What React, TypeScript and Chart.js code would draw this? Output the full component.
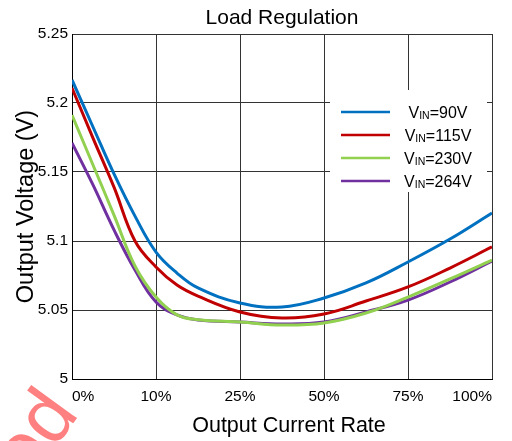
import React, { useEffect, useRef } from 'react';
import { Chart, registerables } from 'chart.js';

Chart.register(...registerables);

const chartTitle = 'Load Regulation';
const xAxisTitle = 'Output Current Rate';
const yAxisTitle = 'Output Voltage (V)';
const xTickLabels = ['0%', '10%', '25%', '50%', '75%', '100%'];
const yTickLabels = ['5', '5.05', '5.1', '5.15', '5.2', '5.25'];
// positions along the (evenly spaced) category axis, 0 = "0%", 5 = "100%"
const xPositions = [0, 0.25, 0.5, 0.75, 1, 1.25, 1.5, 2, 2.5, 3, 3.5, 4, 4.5, 5];
const vin90 = [5.2167, 5.1826, 5.1486, 5.118, 5.092, 5.0768, 5.066, 5.0551, 5.0522, 5.0587, 5.0696, 5.0848, 5.1014, 5.1203];
const vin115 = [5.2109, 5.1746, 5.139, 5.1, 5.0812, 5.0681, 5.0601, 5.0486, 5.0442, 5.0471, 5.0565, 5.0667, 5.0804, 5.0957];
const vin230 = [5.1913, 5.1551, 5.1188, 5.0819, 5.0594, 5.0465, 5.043, 5.0413, 5.0391, 5.0406, 5.0478, 5.0594, 5.0725, 5.0862];
const vin264 = [5.171, 5.1406, 5.108, 5.079, 5.0558, 5.0464, 5.0428, 5.0413, 5.0399, 5.0413, 5.0486, 5.0572, 5.0703, 5.0855];
const seriesVin = ['90V', '115V', '230V', '264V'];
const seriesValues = [vin90, vin115, vin230, vin264];
const seriesColors = ['#0070C0', '#C00000', '#92D050', '#7030A0'];
const watermarkText = 'Released';

const FONT = '"Liberation Sans", Arial, sans-serif';

const watermarkPlugin = {
  id: 'watermark',
  beforeDraw(chart: any) {
    const ctx = chart.ctx;
    ctx.save();
    ctx.translate(80, 414);
    ctx.rotate((-54 * Math.PI) / 180);
    ctx.font = `78px ${FONT}`;
    ctx.fillStyle = '#FF8080';
    ctx.textAlign = 'right';
    ctx.textBaseline = 'alphabetic';
    ctx.fillText(watermarkText, 0, 0);
    ctx.restore();
  },
};

const titlePlugin = {
  id: 'centerTitles',
  afterDraw(chart: any) {
    const ctx = chart.ctx;
    const ca = chart.chartArea;
    ctx.save();
    ctx.fillStyle = '#000';
    ctx.textAlign = 'center';
    ctx.textBaseline = 'middle';
    ctx.font = `21px ${FONT}`;
    ctx.fillText(chartTitle, (ca.left + ca.right) / 2, ca.top - 16);
    ctx.font = `21.5px ${FONT}`;
    ctx.fillText(xAxisTitle, (ca.left + ca.right) / 2 + 7, ca.bottom + 47);
    ctx.restore();
  },
};

const legendPlugin = {
  id: 'subLegend',
  afterDatasetsDraw(chart: any) {
    const ctx = chart.ctx;
    const ca = chart.chartArea;
    ctx.save();
    ctx.fillStyle = '#fff';
    ctx.fillRect(ca.right - 162, ca.top + 56, 157, 102);
    chart.data.datasets.forEach((ds: any, i: number) => {
      const y = ca.top + 78 + i * 23;
      ctx.strokeStyle = ds.borderColor;
      ctx.lineWidth = 2.5;
      ctx.beginPath();
      ctx.moveTo(ca.right - 151, y);
      ctx.lineTo(ca.right - 102, y);
      ctx.stroke();
      const main = `16px ${FONT}`;
      const sub = `10.5px ${FONT}`;
      const rest = '=' + seriesVin[i];
      ctx.font = main;
      const wV = ctx.measureText('V').width;
      const wR = ctx.measureText(rest).width;
      ctx.font = sub;
      const wS = ctx.measureText('IN').width;
      const total = wV + wS + wR;
      let x = ca.right - 54 - total / 2;
      ctx.fillStyle = '#000';
      ctx.textAlign = 'left';
      ctx.textBaseline = 'alphabetic';
      ctx.font = main;
      ctx.fillText('V', x, y + 6);
      x += wV;
      ctx.font = sub;
      ctx.fillText('IN', x, y + 6.5);
      x += wS;
      ctx.font = main;
      ctx.fillText(rest, x, y + 6);
    });
    ctx.restore();
  },
};

export default function App() {
  const canvasRef = useRef<HTMLCanvasElement | null>(null);

  useEffect(() => {
    document.body.style.margin = '0';
    const canvas = canvasRef.current;
    if (!canvas) return;
    const gridColor = '#333333';
    const chart = new Chart(canvas, {
      type: 'line',
      data: {
        datasets: seriesValues.map((vals, i) => ({
          label: 'VIN=' + seriesVin[i],
          data: xPositions.map((x, j) => ({ x, y: vals[j] })),
          borderColor: seriesColors[i],
          backgroundColor: seriesColors[i],
          borderWidth: 3,
          pointRadius: 0,
          tension: 0.4,
          fill: false,
        })),
      },
      options: {
        responsive: false,
        animation: false,
        layout: { padding: { top: 34, right: 20, left: 0, bottom: 0 } },
        plugins: {
          legend: { display: false },
          title: { display: false },
          tooltip: { enabled: false },
        },
        scales: {
          x: {
            type: 'linear',
            min: 0,
            max: 5,
            afterFit: (scale: any) => {
              scale.height = 62;
            },
            grid: { color: gridColor, lineWidth: 1, drawTicks: false },
            border: { color: '#000', width: 1 },
            ticks: {
              stepSize: 1,
              padding: 8,
              align: 'inner',
              maxRotation: 0,
              color: '#000',
              font: { family: FONT, size: 15.5 },
              callback: (_v: any, i: number) => xTickLabels[i],
            },
            title: { display: false },
          },
          y: {
            type: 'linear',
            min: 5,
            max: 5.25,
            afterFit: (scale: any) => {
              scale.width = 72;
            },
            grid: { color: gridColor, lineWidth: 1, drawTicks: false },
            border: { color: '#000', width: 1 },
            ticks: {
              stepSize: 0.05,
              padding: 4,
              color: '#000',
              font: { family: FONT, size: 15.5 },
              callback: (_v: any, i: number) => yTickLabels[i],
            },
            title: {
              display: true,
              text: yAxisTitle,
              color: '#000',
              font: { family: FONT, size: 23.5 },
              padding: { top: 12, bottom: 0 },
            },
          },
        },
      },
      plugins: [watermarkPlugin, titlePlugin, legendPlugin],
    } as any);
    return () => chart.destroy();
  }, []);

  return (
    <div style={{ width: 512, height: 441, position: 'relative' }}>
      <canvas ref={canvasRef} width={512} height={441} style={{ display: 'block', width: 512, height: 441 }} />
    </div>
  );
}
